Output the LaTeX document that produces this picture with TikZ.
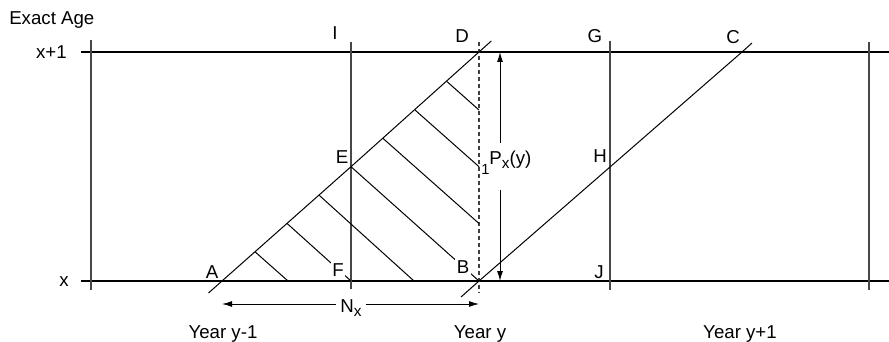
\documentclass[tikz,border=0pt]{standalone}
\usepackage{fontspec}
\setmainfont{Liberation Sans}
\usetikzlibrary{arrows.meta}
\newcommand{\lowsub}[2][-2.5pt]{\raisebox{#1}{\fontsize{11.5}{12}\selectfont #2}}
\begin{document}
\begin{tikzpicture}[x=0.75pt, y=-0.75pt, line join=round,
    lbl/.style={inner sep=0pt, font=\fontsize{14}{16}\selectfont},
    pt/.style={inner sep=1.5pt, font=\fontsize{14}{16}\selectfont},
    gap/.style={fill=white, inner sep=1.2pt},
    ageline/.style={line width=0.9pt},
    yearline/.style={line width=1pt, black!72},
    life/.style={line width=0.75pt},
    hatch/.style={line width=0.75pt},
    dim/.style={line width=0.75pt, -{Latex[length=7.5pt,width=4.5pt]}}]
  \useasboundingbox (0,0) rectangle (889,342);
  % corners of the Lexis grid
  \coordinate (tl) at (81,52);
  \coordinate (tr) at (889,52);
  \coordinate (bl) at (81,281);
  \coordinate (br) at (889,281);
  \coordinate (A) at (222,281);
  \coordinate (B) at (479,281);
  \coordinate (C) at (742,52);
  \coordinate (D) at (479,52);
  \coordinate (E) at (351,166.7);
  \coordinate (F) at (351,281);
  \coordinate (H) at (610,167);
  % age lines
  \draw[ageline] (tl) -- (tr);
  \draw[ageline] (bl) -- (br);
  % year boundaries
  \draw[yearline] (91,40) -- (91,290);
  \draw[yearline] (351,42) -- (351,289);
  \draw[yearline] (610,41) -- (610,290);
  \draw[yearline] (869,42) -- (869,290);
  \draw[line width=0.8pt, black!75, dash pattern=on 3pt off 2.2pt] (479,42) -- (479,293);
  % life lines
  \draw[life] (208.5,293) -- (A) -- (E) -- (D) -- (491.3,41);
  \draw[life] (461,297) -- (B) -- (H) -- (C) -- (752,43);
  % hatching
  \draw[hatch] (255,251.8) -- (288,281);
  \draw[hatch] (287,223.4) -- (F);
  \draw[hatch] (319,195.1) -- (414,281);
  \draw[hatch] (E) -- (B);
  \draw[hatch] (383,138.4) -- (479,223.5);
  \draw[hatch] (415,110) -- (479,166.7);
  \draw[hatch] (447,81.6) -- (479,110);
  % point labels
  \node[pt] (lA) at (212,272) {A};
  \node[pt, gap] (lB) at (463,267) {B};
  \node[pt] (lC) at (733,37) {C};
  \node[pt] (lD) at (462,36) {D};
  \node[pt] (lE) at (342,157) {E};
  \node[pt, gap] (lF) at (338,270) {F};
  \node[pt] (lG) at (595,36) {G};
  \node[pt] (lH) at (600,156) {H};
  \node[pt] (lI) at (335,33) {I};
  \node[pt] (lJ) at (599,272) {J};
  % axis labels
  \node[lbl, anchor=base west] (exact) at (9,25) {Exact Age};
  \node[lbl, anchor=east] (xone) at (67,52) {x+1};
  \node[lbl, anchor=east] (xzero) at (69,282) {x};
  \node[lbl, anchor=base] (ym) at (223,338) {Year y-1};
  \node[lbl, anchor=base] (y0) at (480,338) {Year y};
  \node[lbl, anchor=base] (yp) at (740,338) {Year y+1};
  % N_x
  \coordinate (nl) at (222,304);
  \coordinate (nr) at (479,304);
  \node[lbl, anchor=base, inner xsep=3pt] (nx) at (351,312) {N\lowsub[-3pt]{x}};
  \draw[dim] (nx.west |- nl) -- (nl);
  \draw[dim] (nx.east |- nr) -- (nr);
  % 1P_x(y)
  \coordinate (pt) at (500,52);
  \coordinate (pb) at (500,281);
  \coordinate (pgt) at (500,143);
  \coordinate (pgb) at (500,190);
  \node[lbl, anchor=base west] (px) at (481,165) {\raisebox{-7pt}{\fontsize{11}{12}\selectfont 1}P\lowsub{x}(y)};
  \draw[dim] (pgt) -- (pt);
  \draw[dim] (pgb) -- (pb);
\end{tikzpicture}
\end{document}
